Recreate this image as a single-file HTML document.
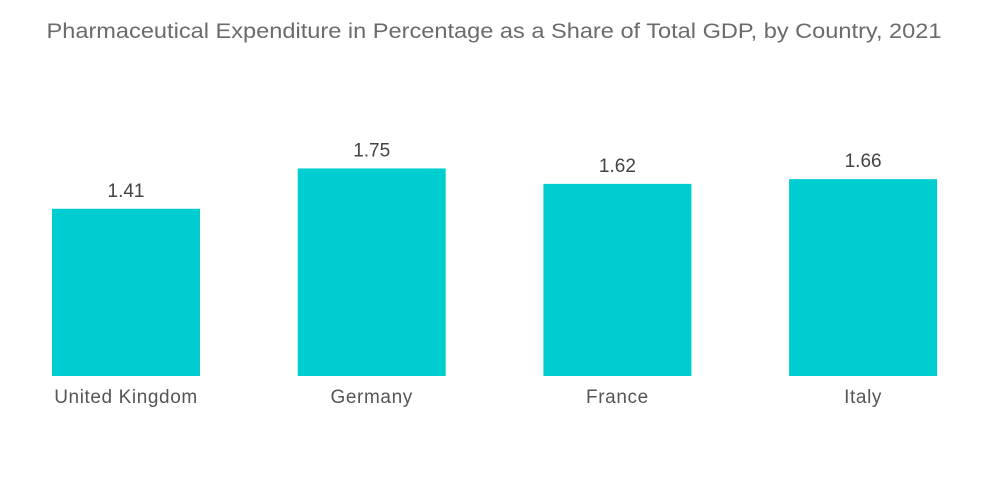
<!DOCTYPE html>
<html><head><meta charset="utf-8"><style>
html,body{margin:0;padding:0;background:#fff;}
svg{display:block;font-family:"Liberation Sans",sans-serif;}
</style></head><body>
<svg id="chart" width="1000" height="504">
<text x="494" y="38" text-anchor="middle" font-size="21" fill="#6b6b6b" textLength="895" lengthAdjust="spacingAndGlyphs">Pharmaceutical Expenditure in Percentage as a Share of Total GDP, by Country, 2021</text>
<g id="bars"></g>
</svg>
<script>
const categories = ["United Kingdom","Germany","France","Italy"];
const values = [1.41,1.75,1.62,1.66];
const valueLabels = ["1.41","1.75","1.62","1.66"];
const baseY = 376, pxPerUnit = 118.6, x0 = 52, step = 245.7, barW = 148;
const yScale = v => baseY - v * pxPerUnit;
const xScale = i => x0 + i * step;
const g = document.getElementById('bars');
const NS = 'http://www.w3.org/2000/svg';
categories.forEach((c, i) => {
  const x = xScale(i), y = yScale(values[i]);
  const r = document.createElementNS(NS, 'rect');
  r.setAttribute('x', x); r.setAttribute('y', y);
  r.setAttribute('width', barW); r.setAttribute('height', baseY - y);
  r.setAttribute('fill', '#00cdd0');
  
  
  g.appendChild(r);
  const t = document.createElementNS(NS, 'text');
  t.setAttribute('x', x + barW / 2); t.setAttribute('y', y - 12);
  t.setAttribute('text-anchor', 'middle'); t.setAttribute('font-size', '19');
  t.setAttribute('fill', '#444');
  t.textContent = valueLabels[i];
  
  
  g.appendChild(t);
  const l = document.createElementNS(NS, 'text');
  l.setAttribute('x', x + barW / 2); l.setAttribute('y', 403);
  l.setAttribute('text-anchor', 'middle'); l.setAttribute('font-size', '19');
  l.setAttribute('letter-spacing', '0.6');
  l.setAttribute('fill', '#555');
  l.textContent = c;
  
  
  g.appendChild(l);
});
</script>
</body></html>
